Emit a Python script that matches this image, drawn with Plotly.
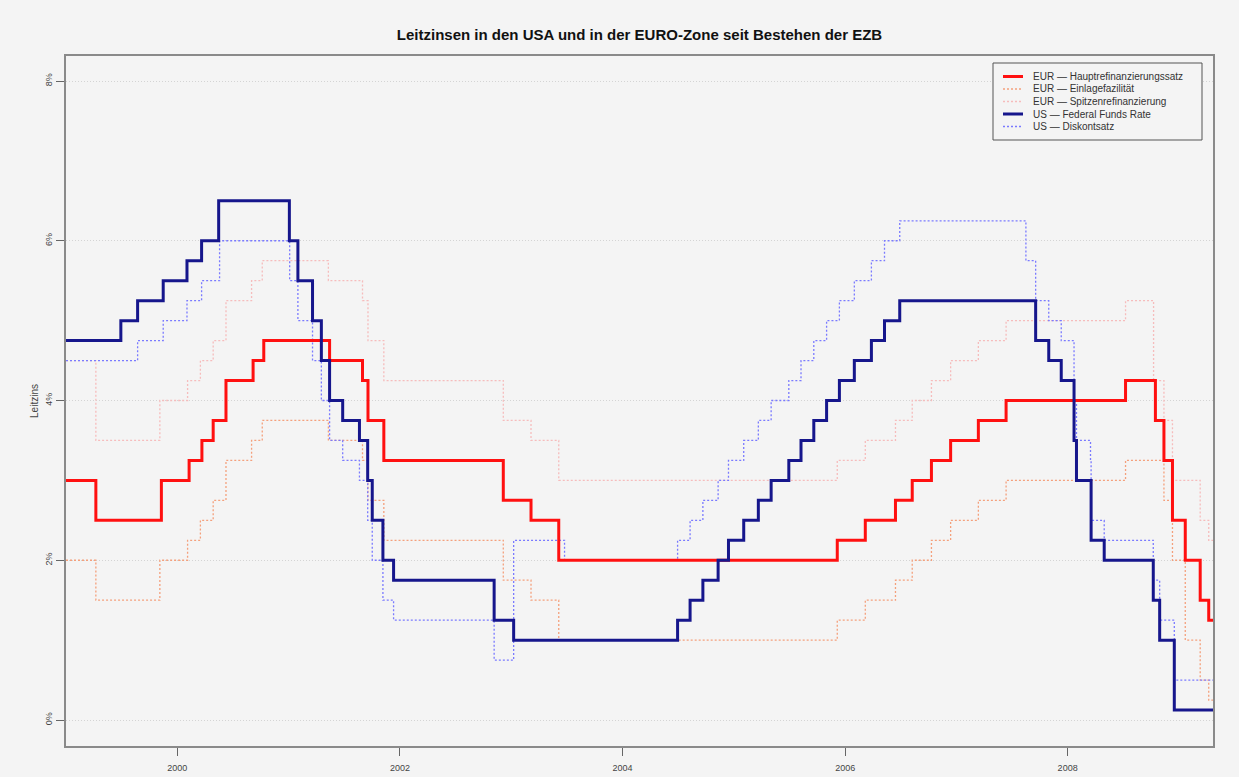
import plotly.graph_objects as go

END_DATE = "2009-04-22"

# EUR - Hauptrefinanzierungssatz
eur_main_dates = ["1999-01-01", "1999-04-09", "1999-11-10", "2000-02-09", "2000-03-22", "2000-04-28",
                  "2000-06-09", "2000-09-06", "2000-10-11", "2001-05-15", "2001-08-31", "2001-09-18",
                  "2001-11-09", "2002-12-06", "2003-03-07", "2003-06-06", "2005-12-06", "2006-03-08",
                  "2006-06-15", "2006-08-09", "2006-10-11", "2006-12-13", "2007-03-14", "2007-06-13",
                  "2008-07-09", "2008-10-15", "2008-11-12", "2008-12-10", "2009-01-21", "2009-03-11",
                  "2009-04-08", END_DATE]
eur_main_vals = [3.00, 2.50, 3.00, 3.25, 3.50, 3.75, 4.25, 4.50, 4.75, 4.50, 4.25, 3.75,
                 3.25, 2.75, 2.50, 2.00, 2.25, 2.50, 2.75, 3.00, 3.25, 3.50, 3.75, 4.00,
                 4.25, 3.75, 3.25, 2.50, 2.00, 1.50, 1.25, 1.25]

# EUR - Einlagefazilitaet
eur_dep_dates = ["1999-01-01", "1999-04-09", "1999-11-05", "2000-02-04", "2000-03-17", "2000-04-28",
                 "2000-06-09", "2000-09-01", "2000-10-06", "2001-05-11", "2001-08-31", "2001-09-18",
                 "2001-11-09", "2002-12-06", "2003-03-07", "2003-06-06", "2005-12-06", "2006-03-08",
                 "2006-06-15", "2006-08-09", "2006-10-11", "2006-12-13", "2007-03-14", "2007-06-13",
                 "2008-07-09", "2008-11-12", "2008-12-10", "2009-01-21", "2009-03-11", "2009-04-08",
                 END_DATE]
eur_dep_vals = [2.00, 1.50, 2.00, 2.25, 2.50, 2.75, 3.25, 3.50, 3.75, 3.50, 3.25, 2.75,
                2.25, 1.75, 1.50, 1.00, 1.25, 1.50, 1.75, 2.00, 2.25, 2.50, 2.75, 3.00,
                3.25, 2.75, 2.00, 1.00, 0.50, 0.25, 0.25]

# EUR - Spitzenrefinanzierung
eur_mlf_dates = ["1999-01-01", "1999-04-09", "1999-11-05", "2000-02-04", "2000-03-17", "2000-04-28",
                 "2000-06-09", "2000-09-01", "2000-10-06", "2001-05-11", "2001-08-31", "2001-09-18",
                 "2001-11-09", "2002-12-06", "2003-03-07", "2003-06-06", "2005-12-06", "2006-03-08",
                 "2006-06-15", "2006-08-09", "2006-10-11", "2006-12-13", "2007-03-14", "2007-06-13",
                 "2008-07-09", "2008-10-09", "2008-11-12", "2008-12-10", "2009-03-11", "2009-04-08",
                 END_DATE]
eur_mlf_vals = [4.50, 3.50, 4.00, 4.25, 4.50, 4.75, 5.25, 5.50, 5.75, 5.50, 5.25, 4.75,
                4.25, 3.75, 3.50, 3.00, 3.25, 3.50, 3.75, 4.00, 4.25, 4.50, 4.75, 5.00,
                5.25, 4.25, 3.75, 3.00, 2.50, 2.25, 2.25]

# US - Federal Funds Rate
us_ff_dates = ["1999-01-01", "1999-06-30", "1999-08-24", "1999-11-16", "2000-02-02", "2000-03-21",
               "2000-05-16", "2001-01-03", "2001-01-31", "2001-03-20", "2001-04-18", "2001-05-15",
               "2001-06-27", "2001-08-21", "2001-09-17", "2001-10-02", "2001-11-06", "2001-12-11",
               "2002-11-06", "2003-01-09", "2004-06-30", "2004-08-10", "2004-09-21", "2004-11-10",
               "2004-12-14", "2005-02-02", "2005-03-22", "2005-05-03", "2005-06-30", "2005-08-09",
               "2005-09-20", "2005-11-01", "2005-12-13", "2006-01-31", "2006-03-28", "2006-05-10",
               "2006-06-29", "2007-09-18", "2007-10-31", "2007-12-11", "2008-01-22", "2008-01-30",
               "2008-03-18", "2008-04-30", "2008-10-08", "2008-10-29", "2008-12-16", END_DATE]
us_ff_vals = [4.75, 5.00, 5.25, 5.50, 5.75, 6.00, 6.50, 6.00, 5.50, 5.00, 4.50, 4.00,
              3.75, 3.50, 3.00, 2.50, 2.00, 1.75, 1.25, 1.00, 1.25, 1.50, 1.75, 2.00,
              2.25, 2.50, 2.75, 3.00, 3.25, 3.50, 3.75, 4.00, 4.25, 4.50, 4.75, 5.00,
              5.25, 4.75, 4.50, 4.25, 3.50, 3.00, 2.25, 2.00, 1.50, 1.00, 0.125, 0.125]

# US - Diskontsatz
us_disc_dates = ["1999-01-01", "1999-08-24", "1999-11-16", "2000-02-02", "2000-03-21", "2000-05-19",
                 "2001-01-04", "2001-01-31", "2001-03-20", "2001-04-18", "2001-05-15", "2001-06-27",
                 "2001-08-21", "2001-09-17", "2001-10-02", "2001-11-06", "2001-12-11", "2002-11-06",
                 "2003-01-09", "2003-06-25", "2004-06-30", "2004-08-10", "2004-09-21", "2004-11-10",
                 "2004-12-14", "2005-02-02", "2005-03-22", "2005-05-03", "2005-06-30", "2005-08-09",
                 "2005-09-20", "2005-11-01", "2005-12-13", "2006-01-31", "2006-03-28", "2006-05-10",
                 "2006-06-29", "2007-08-17", "2007-09-18", "2007-10-31", "2007-12-11", "2008-01-22",
                 "2008-01-30", "2008-03-16", "2008-03-18", "2008-04-30", "2008-10-08", "2008-10-29",
                 "2008-12-16", END_DATE]
us_disc_vals = [4.50, 4.75, 5.00, 5.25, 5.50, 6.00, 5.50, 5.00, 4.50, 4.00, 3.50, 3.25,
                3.00, 2.50, 2.00, 1.50, 1.25, 0.75, 2.25, 2.00, 2.25, 2.50, 2.75, 3.00,
                3.25, 3.50, 3.75, 4.00, 4.25, 4.50, 4.75, 5.00, 5.25, 5.50, 5.75, 6.00,
                6.25, 5.75, 5.25, 5.00, 4.75, 4.00, 3.50, 3.25, 2.50, 2.25, 1.75, 1.25,
                0.50, 0.50]

y_tick_vals = [0, 2, 4, 6, 8]
y_tick_text = ["0%", "2%", "4%", "6%", "8%"]
x_tick_vals = ["2000-01-01", "2002-01-01", "2004-01-01", "2006-01-01", "2008-01-01"]
x_tick_text = ["2000", "2002", "2004", "2006", "2008"]

DOT = "2px,2px"
series = [
    ("EUR \u2014 Hauptrefinanzierungssatz", eur_main_dates, eur_main_vals, "#ff1010", 3.0, "solid"),
    ("EUR \u2014 Einlagefazilit\u00e4t", eur_dep_dates, eur_dep_vals, "#f4a07c", 1.3, DOT),
    ("EUR \u2014 Spitzenrefinanzierung", eur_mlf_dates, eur_mlf_vals, "#f6bcbc", 1.3, DOT),
    ("US \u2014 Federal Funds Rate", us_ff_dates, us_ff_vals, "#16168c", 3.0, "solid"),
    ("US \u2014 Diskontsatz", us_disc_dates, us_disc_vals, "#7a7aff", 1.3, DOT),
]

BG = "#f4f4f4"
fig = go.Figure()
# draw order: dotted lines first, then solid ones
order = [2, 1, 4, 0, 3]
for i in order:
    name, d, v, c, w, dash = series[i]
    fig.add_trace(go.Scatter(x=d, y=v, mode="lines", name=name, showlegend=False,
                             line=dict(color=c, width=w, dash=dash, shape="hv")))

# Manual compact legend (box + samples + text)
legend_x0, legend_x1 = 993, 1202
legend_y0, legend_y1 = 63, 140
W, H = 1239, 777
ML, MR, MT, MB = 66, 26, 56, 31
pw, ph = W - ML - MR, H - MT - MB

def px(x):
    return (x - ML) / pw

def py(y):
    return (H - MB - y) / ph

shapes = [dict(type="rect", xref="paper", yref="paper",
               x0=px(legend_x0), x1=px(legend_x1), y0=py(legend_y1), y1=py(legend_y0),
               line=dict(color="#555555", width=1), fillcolor=BG, layer="above")]
annotations = []
row_y = [76.5, 89.0, 101.5, 114.0, 126.5]
for k, (name, d, v, c, w, dash) in enumerate(series):
    yy = py(row_y[k])
    shapes.append(dict(type="line", xref="paper", yref="paper",
                       x0=px(1003), x1=px(1023), y0=yy, y1=yy,
                       line=dict(color=c, width=min(w, 3), dash=dash), layer="above"))
    annotations.append(dict(text=name, xref="paper", yref="paper", x=px(1031), y=yy,
                            xanchor="left", yanchor="middle", showarrow=False,
                            font=dict(size=10, color="#333333", family="Liberation Sans, Arial")))

fig.update_layout(
    width=W, height=H, autosize=False,
    margin=dict(l=ML, r=MR, t=MT, b=MB, pad=0, autoexpand=False),
    paper_bgcolor=BG, plot_bgcolor=BG,
    font=dict(family="Liberation Sans, Arial", color="#333333", size=9),
    title=dict(text="<b>Leitzinsen in den USA und in der EURO-Zone seit Bestehen der EZB</b>",
               x=0.5, xanchor="center", xref="paper", y=1 - 35 / H, yanchor="middle",
               font=dict(size=15, color="#111111")),
    shapes=shapes, annotations=annotations,
    showlegend=False,
)
fig.update_xaxes(type="date", range=["1999-01-01", END_DATE], automargin=False,
                 tickvals=x_tick_vals, ticktext=x_tick_text,
                 showgrid=False, zeroline=False,
                 showline=True, linecolor="#8a8a8a", linewidth=2, mirror=True,
                 ticks="outside", ticklen=8, tickcolor="#666666", tickwidth=1,
                 ticklabelstandoff=4,
                 tickfont=dict(size=9, color="#444444"))
fig.update_yaxes(range=[-0.3255, 8.313], automargin=False,
                 tickvals=y_tick_vals, ticktext=y_tick_text, tickangle=-90,
                 showgrid=True, gridcolor="#d4d4d4", griddash="1px,2px", gridwidth=1,
                 zeroline=False,
                 showline=True, linecolor="#8a8a8a", linewidth=2, mirror=True,
                 ticks="outside", ticklen=8, tickcolor="#666666", tickwidth=1,
                 tickfont=dict(size=9, color="#444444"),
                 title=dict(text="Leitzins", font=dict(size=10, color="#444444"), standoff=4))

fig.write_html("out.html", config={"displayModeBar": False},
               post_script="document.body.style.margin='0';document.body.style.background='#f4f4f4';")
